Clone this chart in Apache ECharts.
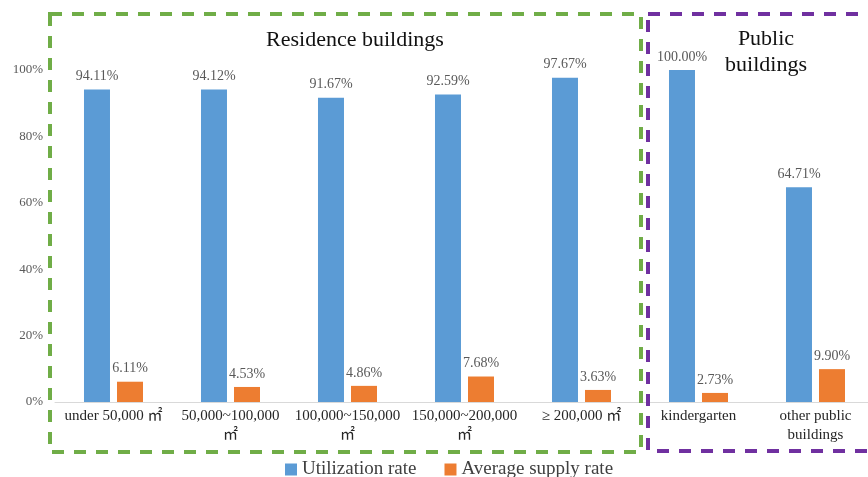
<!DOCTYPE html>
<html>
<head>
  <meta charset="utf-8" />
  <title>Utilization and supply rate</title>
  <script src="https://cdn.jsdelivr.net/npm/echarts@6/dist/echarts.min.js"></script>
  <style>
    html, body { margin: 0; padding: 0; background: #fff; }
    #chart { width: 868px; height: 477px; }
  </style>
</head>
<body>
  <div id="chart"></div>
  <script>
    var categories = ['under 50,000 ㎡', '50,000~100,000\n㎡', '100,000~150,000\n㎡', '150,000~200,000\n㎡', '≥ 200,000 ㎡', 'kindergarten', 'other public\nbuildings'];
    var legendData = ['Utilization rate', 'Average supply rate'];
    var utilization = [94.11, 94.12, 91.67, 92.59, 97.67, 100.00, 64.71];
    var supply = [6.11, 4.53, 4.86, 7.68, 3.63, 2.73, 9.90];

    var serif = '"Liberation Serif", "DejaVu Serif", "Noto Sans CJK SC", serif';
    var labelColor = '#595959';

    var chart = echarts.init(document.getElementById('chart'));

    // dashed frames round the two building groups
    function frame(x1, y1, x2, y2, color) {
      return {
        type: 'rect',
        shape: { x: x1, y: y1, width: x2 - x1, height: y2 - y1 },
        style: { fill: 'none', stroke: color, lineWidth: 4, lineDash: [12, 10] },
        silent: true,
        z: 20
      };
    }
    function title(text, x, y) {
      return {
        type: 'text',
        x: x, y: y,
        style: { text: text, font: '22px ' + serif, fill: '#111', align: 'center', textAlign: 'center', verticalAlign: 'middle' }
      };
    }

    var option = {
      animation: false,
      grid: { left: 55, width: 819, top: 70, bottom: 75, outerBoundsMode: 'none', containLabel: false },
      legend: {
        top: 455,
        left: 280,
        itemWidth: 12,
        itemHeight: 12,
        itemGap: 28,
        icon: 'rect',
        textStyle: { fontFamily: serif, fontSize: 19, color: '#404040' },
        data: legendData
      },
      xAxis: {
        type: 'category',
        data: categories,
        axisLine: { show: true, lineStyle: { color: '#d9d9d9', width: 1 } },
        axisTick: { show: false },
        axisLabel: {
          interval: 0,
          margin: 5,
          color: '#262626',
          fontFamily: serif,
          fontSize: 15,
          lineHeight: 19
        }
      },
      yAxis: {
        type: 'value',
        min: 0,
        max: 100,
        interval: 20,
        splitLine: { show: false },
        axisLine: { show: false },
        axisTick: { show: false },
        axisLabel: {
          formatter: '{value}%',
          margin: 12,
          color: labelColor,
          fontFamily: serif,
          fontSize: 13
        }
      },
      series: [{
        name: legendData[0],
        type: 'bar',
        barWidth: 26,
        barGap: '27%',
        itemStyle: { color: '#5b9bd5' },
        label: {
          show: true,
          position: 'top',
          distance: 6,
          color: labelColor,
          fontFamily: serif,
          fontSize: 14,
          formatter: function (p) { return p.value.toFixed(2) + '%'; }
        },
        data: utilization
      }, {
        name: legendData[1],
        type: 'bar',
        barWidth: 26,
        itemStyle: { color: '#ed7d31' },
        label: {
          show: true,
          position: 'top',
          distance: 6,
          color: labelColor,
          fontFamily: serif,
          fontSize: 14,
          formatter: function (p) { return p.value.toFixed(2) + '%'; }
        },
        data: supply
      }],
      graphic: [
        frame(50, 14, 641, 452, '#70ad47'),
        frame(648, 14, 880, 451, '#7030a0'),
        title('Residence buildings', 355, 40),
        title('Public', 766, 39),
        title('buildings', 766, 65)
      ]
    };
    chart.setOption(option);
  </script>
</body>
</html>
